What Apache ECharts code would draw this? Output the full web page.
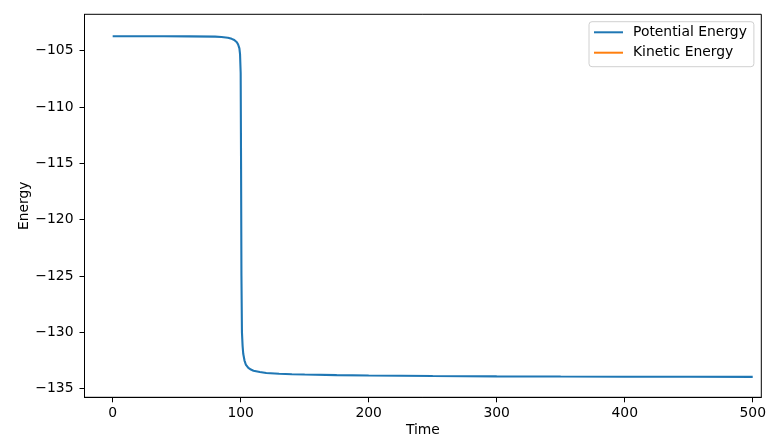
<!DOCTYPE html>
<html>
<head>
<meta charset="utf-8">
<script src="https://cdn.jsdelivr.net/npm/echarts@6/dist/echarts.min.js"></script>
<style>html,body{margin:0;padding:0;background:#fff}#c{width:783px;height:445px}</style>
</head>
<body>
<div id="c"></div>
<script>
const time = [0, 20, 40, 60, 80, 85, 90, 93, 95, 97, 98, 99, 99.5, 100, 100.3, 100.6, 101, 101.5, 102, 103, 104, 106, 108, 110, 115, 120, 130, 140, 150, 175, 200, 250, 300, 350, 400, 450, 500];
const potentialEnergy = [-103.72, -103.72, -103.72, -103.73, -103.75, -103.78, -103.85, -103.95, -104.05, -104.25, -104.45, -104.8, -105.3, -107, -115, -125, -130, -131.2, -131.9, -132.5, -132.85, -133.15, -133.3, -133.4, -133.52, -133.6, -133.67, -133.71, -133.74, -133.79, -133.83, -133.87, -133.9, -133.92, -133.93, -133.94, -133.95];
const kineticEnergy = [];
const xTicks = [0, 100, 200, 300, 400, 500];
const yTicks = [-135, -130, -125, -120, -115, -110, -105];

const font = 'DejaVu Sans';
const fmt = v => String(v).replace('-', '\u2212');
const chart = echarts.init(document.getElementById('c'), null, {renderer: 'canvas'});
chart.setOption({
  animation: false,
  backgroundColor: '#fff',
  grid: {left: 84.5, top: 14.3, right: 21.7, bottom: 47.7, show: true, borderColor: '#000', borderWidth: 1, backgroundColor: 'transparent'},
  legend: {
    orient: 'vertical', left: 589, top: 21.7,
    padding: [2.6, 7, 6, 5], itemGap: 4.4,
    itemWidth: 29, itemHeight: 2,
    backgroundColor: '#fff', borderColor: '#d0d0d0', borderWidth: 1, borderRadius: 3,
    textStyle: {fontFamily: font, fontSize: 13.9, color: '#000', lineHeight: 16, padding: [0, 0, 0, 5]},
    data: [{name: 'Potential Energy', icon: 'rect'}, {name: 'Kinetic Energy', icon: 'rect'}]
  },
  xAxis: {
    type: 'value', min: -22, max: 506.7,
    name: 'Time', nameLocation: 'middle', nameGap: 26, nameMoveOverlap: false,
    nameTextStyle: {fontFamily: font, fontSize: 13.9, color: '#000'},
    axisLine: {show: true, onZero: false, lineStyle: {color: '#000', width: 1}},
    axisTick: {show: true, length: 5, lineStyle: {color: '#000'}, customValues: xTicks},
    axisLabel: {fontFamily: font, fontSize: 13.9, color: '#000', margin: 9, customValues: xTicks, formatter: fmt},
    splitLine: {show: false}
  },
  yAxis: {
    type: 'value', min: -135.76, max: -101.77,
    name: 'Energy', nameLocation: 'middle', nameGap: 53, nameRotate: 90, nameMoveOverlap: false,
    nameTextStyle: {fontFamily: font, fontSize: 13.9, color: '#000'},
    axisLine: {show: true, onZero: false, lineStyle: {color: '#000', width: 1}},
    axisTick: {show: true, length: 5, lineStyle: {color: '#000'}, customValues: yTicks},
    axisLabel: {fontFamily: font, fontSize: 13.9, color: '#000', margin: 11, customValues: yTicks, formatter: fmt},
    splitLine: {show: false}
  },
  series: [
    {name: 'Potential Energy', type: 'line', showSymbol: false, symbol: 'none',
     itemStyle: {color: '#1f77b4'}, lineStyle: {color: '#1f77b4', width: 2.1},
     data: time.map((t, i) => [t, potentialEnergy[i]])},
    {name: 'Kinetic Energy', type: 'line', showSymbol: false, symbol: 'none',
     itemStyle: {color: '#ff7f0e'}, lineStyle: {color: '#ff7f0e', width: 2.1},
     data: kineticEnergy}
  ]
});
</script>
</body>
</html>
